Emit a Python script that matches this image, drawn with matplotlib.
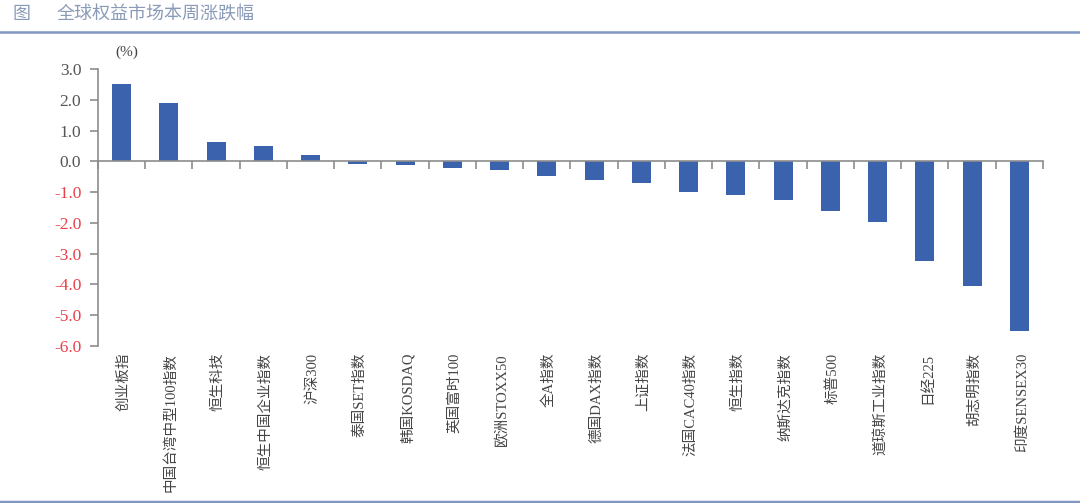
import matplotlib
matplotlib.use('Agg')
import matplotlib.pyplot as plt
import matplotlib.transforms as mtransforms
import numpy as np

plt.rcParams['font.family'] = ['Liberation Serif', 'Noto Sans CJK SC', 'DejaVu Sans']

categories = ['创业板指', '中国台湾中型100指数', '恒生科技', '恒生中国企业指数', '沪深300',
              '泰国SET指数', '韩国KOSDAQ', '英国富时100', '欧洲STOXX50', '全A指数',
              '德国DAX指数', '上证指数', '法国CAC40指数', '恒生指数', '纳斯达克指数',
              '标普500', '道琼斯工业指数', '日经225', '胡志明指数', '印度SENSEX30']
values = [2.50, 1.88, 0.62, 0.49, 0.19,
          -0.07, -0.13, -0.23, -0.29, -0.49,
          -0.62, -0.71, -1.00, -1.10, -1.27,
          -1.60, -1.97, -3.25, -4.04, -5.52]
yticks = [3.0, 2.0, 1.0, 0.0, -1.0, -2.0, -3.0, -4.0, -5.0, -6.0]

bar_color = '#3B63AD'
axis_color = '#8C8C8C'
frame_color = '#7F97C2'
title_color = '#8A9BB8'

fig = plt.figure(figsize=(10.8, 5.03), dpi=100)
ax = fig.add_axes([0.0907, 0.3121, 0.8750, 0.5507])

x = np.arange(len(categories))
ax.bar(x, values, width=0.4, color=bar_color, zorder=2)

ax.set_xlim(-0.5, len(categories) - 0.5)
ax.set_ylim(-6.0, 3.0)

# axes styling
for s in ['top', 'right']:
    ax.spines[s].set_visible(False)
ax.spines['left'].set_color(axis_color)
ax.spines['left'].set_linewidth(1.2)
ax.spines['bottom'].set_position(('data', 0))
ax.spines['bottom'].set_color(axis_color)
ax.spines['bottom'].set_linewidth(1.2)

ax.set_xticks(np.arange(-0.5, len(categories) + 0.5, 1.0))
ax.set_xticklabels([])
ax.tick_params(axis='x', direction='out', length=6, width=1.2, color=axis_color)

ax.set_yticks(yticks)
ax.set_yticklabels(['%.1f' % v for v in yticks])
ax.tick_params(axis='y', direction='out', length=6, width=1.2, color=axis_color,
               labelsize=12.5, pad=6)
for lbl, v in zip(ax.get_yticklabels(), yticks):
    lbl.set_color('#E8404A' if v < 0 else '#555555')

# category labels under the plot area
trans = mtransforms.blended_transform_factory(ax.transData, ax.transAxes)
for xi, name in zip(x, categories):
    ax.text(xi + 0.05, -0.025, name, transform=trans, rotation=90, ha='center', va='top',
            fontsize=10.5, color='#444444')

ax.text(0.018, 1.035, '(%)', transform=ax.transAxes, ha='left', va='bottom',
        fontsize=11, color='#444444')

# title and frame lines
fig.text(12 / 1080, 1 - 15 / 503, '图', fontsize=13, color=title_color, ha='left', va='center')
fig.text(57 / 1080, 1 - 15 / 503, '全球权益市场本周涨跌幅', fontsize=13, color=title_color,
         ha='left', va='center')
fig.add_artist(plt.Line2D([0, 1], [1 - 31.5 / 503, 1 - 31.5 / 503], transform=fig.transFigure,
                          color=frame_color, lw=1.8))
fig.add_artist(plt.Line2D([0, 1], [1 - 501.5 / 503, 1 - 501.5 / 503], transform=fig.transFigure,
                          color=frame_color, lw=2.5))

plt.savefig('out.png', dpi=100)
